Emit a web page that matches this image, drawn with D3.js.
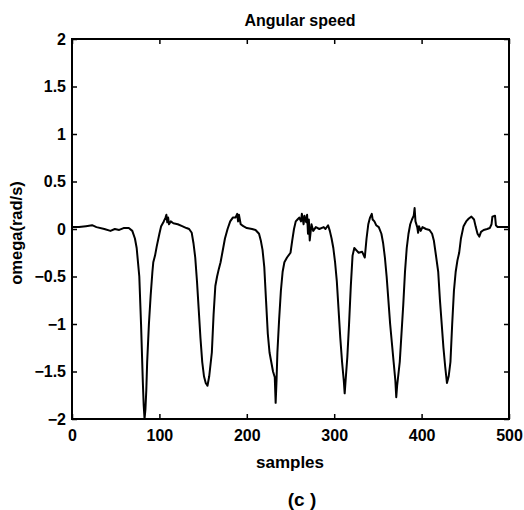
<!DOCTYPE html>
<html>
<head>
<meta charset="utf-8">
<script src="https://cdn.jsdelivr.net/npm/d3@7/dist/d3.min.js"></script>
<style>
body { margin: 0; background: #fff; }
svg text { font-family: 'Liberation Sans', Arial, sans-serif; font-weight: bold; fill: #000; }
</style>
</head>
<body>
<script>
// sample index and angular speed
var samples = [0, 8, 16, 23, 28, 37, 44, 49, 54, 59, 65, 69, 72, 74, 77, 79, 81, 82, 83, 84, 85, 86, 88, 90, 92, 93, 95, 97,
  100, 102, 105, 107, 108, 109, 110, 111, 113, 116, 121, 126, 131, 134, 137, 139, 141, 143, 145, 147, 149, 151, 153, 155,
  157, 160, 162, 164, 166, 168, 170, 172, 175, 178, 181, 184, 187, 189, 190, 191, 193, 196, 200, 206, 210, 214, 216, 218,
  220, 222, 224, 226, 228, 230, 232, 233, 234, 235, 237, 239, 241, 243, 246, 250, 252, 254, 256, 258, 260, 262, 263, 265,
  266, 268, 269, 270, 271, 272, 274, 276, 279, 283, 288, 290, 293, 295, 297, 299, 301, 303, 305, 307, 309, 311, 312, 313,
  315, 317, 319, 321, 323, 325, 328, 332, 335, 337, 339, 341, 343, 344, 346, 348, 351, 354, 356, 358, 360, 362, 364, 366,
  368, 370, 371, 372, 375, 377, 379, 381, 383, 385, 387, 389, 391, 392, 393, 395, 396, 397, 399, 401, 405, 409, 412, 414,
  416, 419, 421, 423, 425, 427, 429, 431, 433, 435, 437, 439, 441, 443, 445, 448, 451, 454, 457, 460, 462, 464, 466, 468,
  471, 475, 478, 480, 481, 484, 485, 487, 494, 500];
var omega = [0.02, 0.02, 0.03, 0.04, 0.02, 0.0, -0.02, 0.0, -0.01, 0.01, 0.01, -0.02, -0.1, -0.2, -0.5, -1.0, -1.6, -1.85, -2.0, -1.9, -1.7, -1.4, -1.0, -0.7, -0.45, -0.35, -0.28, -0.18,
  -0.05, 0.03, 0.08, 0.12, 0.15, 0.07, 0.12, 0.05, 0.08, 0.06, 0.05, 0.03, 0.01, 0.0, -0.04, -0.15, -0.3, -0.55, -0.85, -1.15, -1.4, -1.55, -1.62, -1.65,
  -1.55, -1.3, -0.9, -0.6, -0.5, -0.42, -0.35, -0.25, -0.1, 0.0, 0.08, 0.12, 0.12, 0.16, 0.08, 0.15, 0.05, 0.03, 0.01, 0.0, -0.01, -0.05, -0.12, -0.22,
  -0.4, -0.75, -1.1, -1.3, -1.4, -1.5, -1.56, -1.83, -1.6, -1.3, -0.95, -0.65, -0.45, -0.35, -0.3, -0.25, -0.12, 0.0, 0.08, 0.1, 0.12, 0.08, 0.16, 0.05,
  0.14, 0.07, 0.15, -0.05, 0.1, -0.12, 0.05, -0.02, 0.02, 0.0, 0.02, 0.0, 0.04, -0.02, -0.1, -0.2, -0.35, -0.55, -0.85, -1.15, -1.4, -1.6, -1.73, -1.6,
  -1.35, -1.0, -0.6, -0.28, -0.2, -0.22, -0.25, -0.24, -0.3, -0.1, 0.05, 0.12, 0.16, 0.1, 0.08, 0.04, 0.02, -0.05, -0.15, -0.3, -0.5, -0.75, -1.0, -1.2,
  -1.4, -1.6, -1.77, -1.65, -1.4, -1.1, -0.8, -0.45, -0.2, -0.05, 0.05, 0.1, 0.14, 0.22, 0.08, 0.02, -0.04, 0.03, -0.02, 0.02, 0.0, -0.01, -0.05, -0.12,
  -0.25, -0.45, -0.75, -1.0, -1.25, -1.45, -1.62, -1.55, -1.4, -1.0, -0.65, -0.45, -0.33, -0.25, -0.1, 0.03, 0.08, 0.11, 0.13, 0.1, 0.02, -0.05, -0.08, -0.03,
  -0.01, 0.0, 0.01, 0.05, 0.13, 0.14, 0.04, 0.02, 0.02, 0.02];
var xTicks = [0, 100, 200, 300, 400, 500];
var yTicks = [-2, -1.5, -1, -0.5, 0, 0.5, 1, 1.5, 2];

var margin = {top: 39, right: 15, bottom: 91, left: 72},
    width = 524 - margin.left - margin.right,
    height = 510 - margin.top - margin.bottom;

var svg = d3.select('body').append('svg')
    .attr('width', 524)
    .attr('height', 510);

var g = svg.append('g')
    .attr('transform', 'translate(' + margin.left + ',' + margin.top + ')');

var x = d3.scaleLinear().domain([0, 500]).range([0, width]);
var y = d3.scaleLinear().domain([-2, 2]).range([height, 0]);

var data = samples.map(function(s, i) { return {s: s, v: omega[i]}; });

// axes, ticks pointing inwards like matlab
g.append('g')
    .attr('transform', 'translate(0,' + height + ')')
    .call(d3.axisBottom(x).tickValues(xTicks).tickSizeInner(-5).tickSizeOuter(0).tickPadding(11));
g.append('g')
    .call(d3.axisLeft(y).tickValues(yTicks).tickSizeInner(-5).tickSizeOuter(0).tickPadding(6)
      .tickFormat(d3.format('')));
g.append('g')
    .call(d3.axisTop(x).tickValues(xTicks).tickSizeInner(-5).tickSizeOuter(0).tickFormat(''));
g.append('g')
    .attr('transform', 'translate(' + width + ',0)')
    .call(d3.axisRight(y).tickValues(yTicks).tickSizeInner(-5).tickSizeOuter(0).tickFormat(''));

g.selectAll('.domain').remove();
g.selectAll('.tick line').attr('stroke', '#000').attr('stroke-width', 1.5);
g.selectAll('.tick text').style('font-size', '16px');

g.append('rect')
    .attr('width', width)
    .attr('height', height)
    .attr('fill', 'none')
    .attr('stroke', '#000')
    .attr('stroke-width', 2);

var line = d3.line()
    .x(function(d) { return x(d.s); })
    .y(function(d) { return y(d.v); });

g.append('path')
    .datum(data)
    .attr('d', line)
    .attr('fill', 'none')
    .attr('stroke', '#000')
    .attr('stroke-width', 2)
    .attr('stroke-linejoin', 'round');

svg.append('text')
    .attr('x', 300)
    .attr('y', 26)
    .attr('text-anchor', 'middle')
    .style('font-size', '16px')
    .text('Angular speed');

svg.append('text')
    .attr('x', 290)
    .attr('y', 468)
    .attr('text-anchor', 'middle')
    .style('font-size', '17px')
    .text('samples');

svg.append('text')
    .attr('transform', 'translate(22,233) rotate(-90)')
    .attr('text-anchor', 'middle')
    .style('font-size', '16.5px')
    .text('omega(rad/s)');

svg.append('text')
    .attr('x', 302)
    .attr('y', 506)
    .attr('text-anchor', 'middle')
    .style('font-size', '19px')
    .text('(c )');
</script>
</body>
</html>
